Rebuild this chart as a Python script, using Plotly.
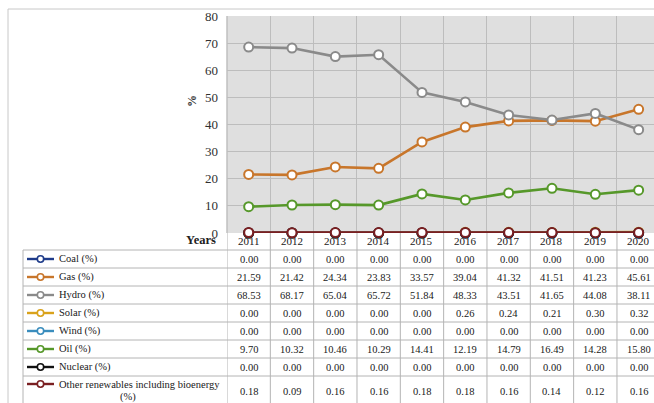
import plotly.graph_objects as go

# ---- data -----------------------------------------------------------------
years = [2011, 2012, 2013, 2014, 2015, 2016, 2017, 2018, 2019, 2020]

coal = [0.00, 0.00, 0.00, 0.00, 0.00, 0.00, 0.00, 0.00, 0.00, 0.00]
gas = [21.59, 21.42, 24.34, 23.83, 33.57, 39.04, 41.32, 41.51, 41.23, 45.61]
hydro = [68.53, 68.17, 65.04, 65.72, 51.84, 48.33, 43.51, 41.65, 44.08, 38.11]
solar = [0.00, 0.00, 0.00, 0.00, 0.00, 0.26, 0.24, 0.21, 0.30, 0.32]
wind = [0.00, 0.00, 0.00, 0.00, 0.00, 0.00, 0.00, 0.00, 0.00, 0.00]
oil = [9.70, 10.32, 10.46, 10.29, 14.41, 12.19, 14.79, 16.49, 14.28, 15.80]
nuclear = [0.00, 0.00, 0.00, 0.00, 0.00, 0.00, 0.00, 0.00, 0.00, 0.00]
other = [0.18, 0.09, 0.16, 0.16, 0.18, 0.18, 0.16, 0.14, 0.12, 0.16]

series_labels = [
    "Coal (%)", "Gas (%)", "Hydro (%)", "Solar (%)", "Wind (%)",
    "Oil (%)", "Nuclear (%)", "Other renewables including bioenergy (%)",
]
series_values = [coal, gas, hydro, solar, wind, oil, nuclear, other]
series_colors = [
    "#1f3c8a", "#c8762b", "#8a8a8a", "#d9a21b",
    "#3a8dbd", "#56982a", "#111111", "#7a1f22",
]

y_ticks = [0, 10, 20, 30, 40, 50, 60, 70, 80]

# ---- geometry (pixels) ----------------------------------------------------
W, H = 654, 403
PLOT_L, PLOT_T, PLOT_B = 227, 16, 233
COL_W = 43.33
TABLE_L = 23
ROW_EDGES = [250, 268, 286, 304, 322, 340, 358, 376, 410]
HEADER_Y = 241

FONT = "Liberation Serif"
GRID = "#bdbdbd"
TABLE_LINE = "#b4b4b4"
TXT = "#202020"


def px(x):
    return x / W


def py(y):
    return 1 - y / H


fig = go.Figure()

for name, vals, col in zip(series_labels, series_values, series_colors):
    fig.add_trace(go.Scatter(
        x=years, y=vals, name=name,
        mode="lines+markers",
        line=dict(color=col, width=2.6),
        marker=dict(symbol="circle", size=9, color="white",
                    line=dict(color=col, width=2)),
        cliponaxis=False, showlegend=False, hoverinfo="skip",
    ))

x_max = 2010.5 + (W - PLOT_L) / COL_W

fig.update_layout(
    width=W, height=H,
    margin=dict(l=0, r=0, t=0, b=0, pad=0, autoexpand=False),
    paper_bgcolor="white",
    plot_bgcolor="#dfdfdf",
    showlegend=False,
    xaxis=dict(
        domain=[px(PLOT_L), 1], range=[2010.5, x_max],
        tickmode="linear", tick0=2010.5, dtick=1,
        showticklabels=False, showgrid=True, gridcolor=GRID, gridwidth=1.4,
        zeroline=False, showline=False, fixedrange=True, automargin=False,
    ),
    yaxis=dict(
        domain=[py(PLOT_B), py(PLOT_T)], range=[0, 80],
        tickmode="array", tickvals=y_ticks, ticktext=[str(v) for v in y_ticks],
        showgrid=True, gridcolor=GRID, gridwidth=1.4,
        zeroline=False, showline=False, ticks="",
        ticklabelstandoff=8, automargin=False,
        tickfont=dict(family=FONT, size=13, color="#303030"),
        fixedrange=True,
    ),
)

shapes = []
annotations = []

# outer chart frame
shapes.append(dict(type="line", xref="paper", yref="paper",
                   x0=px(8), x1=1, y0=py(9), y1=py(9),
                   line=dict(color="#c8c8c8", width=1)))
shapes.append(dict(type="line", xref="paper", yref="paper",
                   x0=px(8), x1=px(8), y0=py(9), y1=0,
                   line=dict(color="#c8c8c8", width=1)))

# left edge of the plot area
shapes.append(dict(type="line", xref="paper", yref="paper",
                   x0=px(PLOT_L), x1=px(PLOT_L), y0=py(PLOT_T), y1=py(PLOT_B),
                   line=dict(color=GRID, width=1.4)))

# data table: horizontal rules
for yy in ROW_EDGES[:-1]:
    shapes.append(dict(type="line", xref="paper", yref="paper",
                       x0=px(TABLE_L), x1=1, y0=py(yy), y1=py(yy),
                       line=dict(color=TABLE_LINE, width=1)))
# data table: left border
shapes.append(dict(type="line", xref="paper", yref="paper",
                   x0=px(TABLE_L), x1=px(TABLE_L), y0=py(ROW_EDGES[0]), y1=0,
                   line=dict(color=TABLE_LINE, width=1)))
# data table: column rules, following the year columns
for yr in years:
    shapes.append(dict(type="line", xref="x", yref="paper",
                       x0=yr - 0.5, x1=yr - 0.5,
                       y0=py(PLOT_B), y1=0,
                       line=dict(color=TABLE_LINE, width=1)))

# header row
annotations.append(dict(xref="paper", yref="paper", x=px(218), y=py(HEADER_Y - 1),
                        xanchor="right", yanchor="middle", showarrow=False,
                        text="<b>Years</b>",
                        font=dict(family=FONT, size=12.5, color=TXT)))
for yr in years:
    annotations.append(dict(xref="x", yref="paper", x=yr, y=py(HEADER_Y),
                            xanchor="center", yanchor="middle", showarrow=False,
                            text=str(yr),
                            font=dict(family=FONT, size=11, color=TXT)))

# table rows: legend key, label and values
n_rows = len(series_labels)
label_font = dict(family=FONT, size=10.5, color=TXT)
for i, (name, vals, col) in enumerate(zip(series_labels, series_values, series_colors)):
    top, bot = ROW_EDGES[i], ROW_EDGES[i + 1]
    last = i == n_rows - 1
    cy = 391 if last else (top + bot) / 2      # value text centre
    ky = 384 if last else cy                   # legend key / first text line
    shapes.append(dict(type="line", xref="paper", yref="paper",
                       x0=px(27), x1=px(54), y0=py(ky), y1=py(ky),
                       line=dict(color=col, width=2.4)))
    r = 3.2
    shapes.append(dict(type="circle", xref="paper", yref="paper",
                       x0=px(40.5 - r), x1=px(40.5 + r),
                       y0=py(ky + r), y1=py(ky - r),
                       fillcolor="white", line=dict(color=col, width=1.6)))
    if last:
        # long label wraps: unit goes on its own line, centred underneath
        head, unit = name.rsplit(" ", 1)
        annotations.append(dict(xref="paper", yref="paper", x=px(57), y=py(ky),
                                xanchor="left", yanchor="middle", showarrow=False,
                                text=head, font=label_font))
        annotations.append(dict(xref="paper", yref="paper", x=px(128), y=py(396.5),
                                xanchor="center", yanchor="middle", showarrow=False,
                                text=unit, font=label_font))
    else:
        annotations.append(dict(xref="paper", yref="paper", x=px(57), y=py(ky),
                                xanchor="left", yanchor="middle", showarrow=False,
                                text=name, font=label_font))
    for yr, v in zip(years, vals):
        annotations.append(dict(xref="x", yref="paper", x=yr, y=py(cy),
                                xanchor="center", yanchor="middle", showarrow=False,
                                text=f"{v:.2f}",
                                font=dict(family=FONT, size=10.5, color=TXT)))

# rotated axis title
annotations.append(dict(xref="paper", yref="paper", x=px(192), y=py(101),
                        xanchor="center", yanchor="middle", showarrow=False,
                        text="<b>%</b>", textangle=-90,
                        font=dict(family=FONT, size=12, color="#303030")))

fig.update_layout(shapes=shapes, annotations=annotations)

fig.write_html("out.html")
